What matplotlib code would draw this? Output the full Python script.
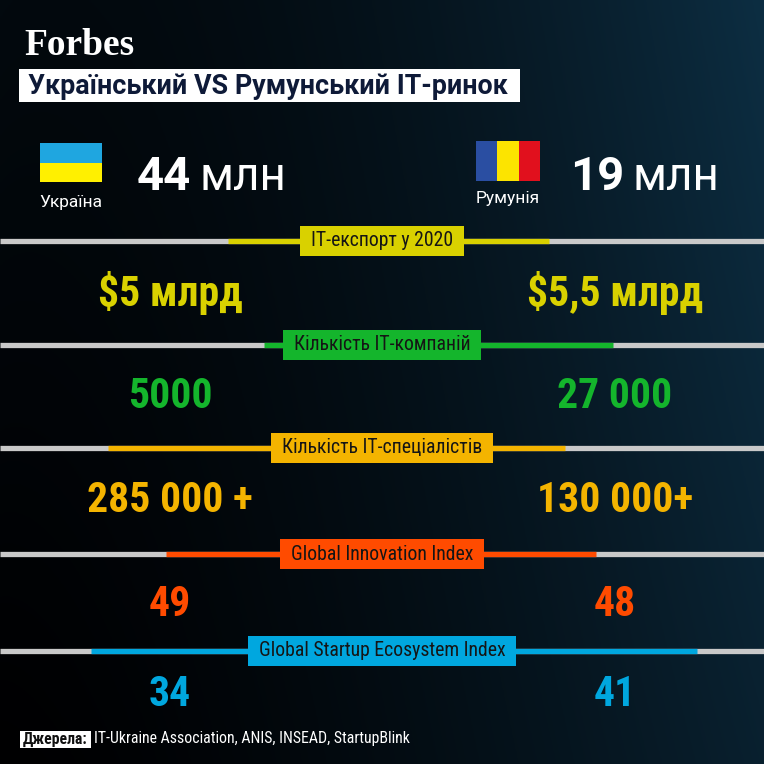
import numpy as np
import matplotlib
matplotlib.use("Agg")
import matplotlib.pyplot as plt
from matplotlib import font_manager as fm
from matplotlib.patches import Rectangle

W = H = 764

# ── Data ────────────────────────────────────────────────────────────────
TITLE = "Український VS Румунський IT-ринок"
COUNTRIES = ["Україна", "Румунія"]
POPULATION = ["44", "19"]
POP_UNIT = "млн"
METRICS = ["IT-експорт у 2020", "Кількість IT-компаній", "Кількість IT-спеціалістів",
           "Global Innovation Index", "Global Startup Ecosystem Index"]
UKRAINE_VALS = ["$5 млрд", "5000", "285 000 +", "49", "34"]
ROMANIA_VALS = ["$5,5 млрд", "27 000", "130 000+", "48", "41"]
SOURCE_LABEL = "Джерела:"
SOURCES = "IT-Ukraine Association, ANIS, INSEAD, StartupBlink"

# ── Layout / style (pixels, y down) ─────────────────────────────────────
ROW_LINE_Y = [241, 345, 448, 554, 651]
ROW_VAL_Y = [293, 396, 500, 605, 694]
ROW_SPAN = [(228, 549), (264, 613), (108, 565), (166, 596), (91, 697)]
ROW_COLORS = ["#d9d100", "#14b52c", "#f4b400", "#ff4b00", "#00a7df"]
LEFT_X, RIGHT_X = 170, 615
GREY = "#c9c9c9"

available = {f.name for f in fm.fontManager.ttflist}


def pick(*names):
    for n in names:
        if n in available:
            return n
    return "DejaVu Sans"


COND = pick("Roboto Condensed", "Liberation Sans Narrow", "Open Sans Condensed", "Roboto")
SANS = pick("Roboto", "Inter", "DejaVu Sans")
SERIF = pick("Liberation Serif", "DejaVu Serif")

fig = plt.figure(figsize=(W / 100, H / 100), dpi=100)
ax = fig.add_axes([0, 0, 1, 1])
ax.set_xlim(0, W)
ax.set_ylim(H, 0)
ax.axis("off")

# background gradient
gx = np.linspace(0, 1, 300)[None, :]
gy = np.linspace(0, 1, 300)[:, None]
w = np.clip(gx ** 1.5 * (1.0 - 0.3 * gy) + 0.2 * (1 - gy) * (1 - gx) ** 2, 0, 1)
c0 = np.array([0.0, 0.0, 0.005])
c1 = np.array([0.05, 0.18, 0.26])
img = c0 + w[..., None] * (c1 - c0)
ax.imshow(img, extent=(0, W, H, 0), aspect="auto", zorder=0)

fig.canvas.draw()
renderer = fig.canvas.get_renderer()
inv = ax.transData.inverted()


def x_extent(t):
    bb = t.get_window_extent(renderer)
    (x0, _), (x1, _) = inv.transform([(bb.x0, bb.y0), (bb.x1, bb.y1)])
    return x0, x1


# header
ax.text(24, 55, "Forbes", family=SERIF, fontweight="bold", fontsize=27,
        color="white", va="baseline", ha="left")
ax.add_patch(Rectangle((19, 69), 501, 33, fc="white", ec="none", zorder=2))
ax.text(28, 86, TITLE, family=SANS, fontweight="bold", fontsize=19.4,
        color="#0e1a38", va="center", ha="left", zorder=3)

# flags
ax.add_patch(Rectangle((40, 143), 62, 19.5, fc="#1fa6e0", ec="none"))
ax.add_patch(Rectangle((40, 162.5), 62, 19.5, fc="#fff000", ec="none"))
for i, c in enumerate(["#2a4ea2", "#fce400", "#e1101d"]):
    ax.add_patch(Rectangle((476 + i * 21.3, 141), 21.3, 40, fc=c, ec="none"))

for cx, cy, name in [(71, 202, COUNTRIES[0]), (508, 199, COUNTRIES[1])]:
    ax.text(cx, cy, name, family=SANS, fontsize=12.5, color="white",
            ha="center", va="center")

for x_num, num in zip([137, 570], POPULATION):
    t = ax.text(x_num, 190, num, family=SANS, fontweight="bold", fontsize=34,
                color="white", ha="left", va="baseline")
    _, x1 = x_extent(t)
    ax.text(x1 + 8, 190, POP_UNIT, family=SANS, fontsize=33,
            color="white", ha="left", va="baseline")


def label_box(x, y, s, fc, tc, fontsize, padx, height, family, weight="normal", ha="center"):
    t = ax.text(x, y, s, family=family, fontsize=fontsize, color=tc,
                ha=ha, va="center", fontweight=weight, zorder=5)
    x0, x1 = x_extent(t)
    ax.add_patch(Rectangle((x0 - padx, y - height / 2), (x1 - x0) + 2 * padx, height,
                           fc=fc, ec="none", zorder=4))
    return x1 + padx


# rows
for metric, uv, rv, ly, vy, (sx0, sx1), col in zip(
        METRICS, UKRAINE_VALS, ROMANIA_VALS, ROW_LINE_Y, ROW_VAL_Y, ROW_SPAN, ROW_COLORS):
    ax.plot([0, W], [ly, ly], color=GREY, lw=3.8, solid_capstyle="butt", zorder=2)
    ax.plot([sx0, sx1], [ly, ly], color=col, lw=3.8, solid_capstyle="butt", zorder=3)
    label_box(W / 2, ly, metric, col, "#151515", 14.2, 11, 30, COND)
    ax.text(LEFT_X, vy, uv, family=COND, fontweight="bold", fontsize=30,
            color=col, ha="center", va="center")
    ax.text(RIGHT_X, vy, rv, family=COND, fontweight="bold", fontsize=30,
            color=col, ha="center", va="center")

# footer
xe = label_box(23, 739, SOURCE_LABEL, "white", "#111111", 11.3, 3, 17, COND, "bold", ha="left")
ax.text(xe + 3, 739, SOURCES, family=COND, fontsize=11.4, color="white",
        ha="left", va="center")

fig.savefig("out.png", dpi=100)
